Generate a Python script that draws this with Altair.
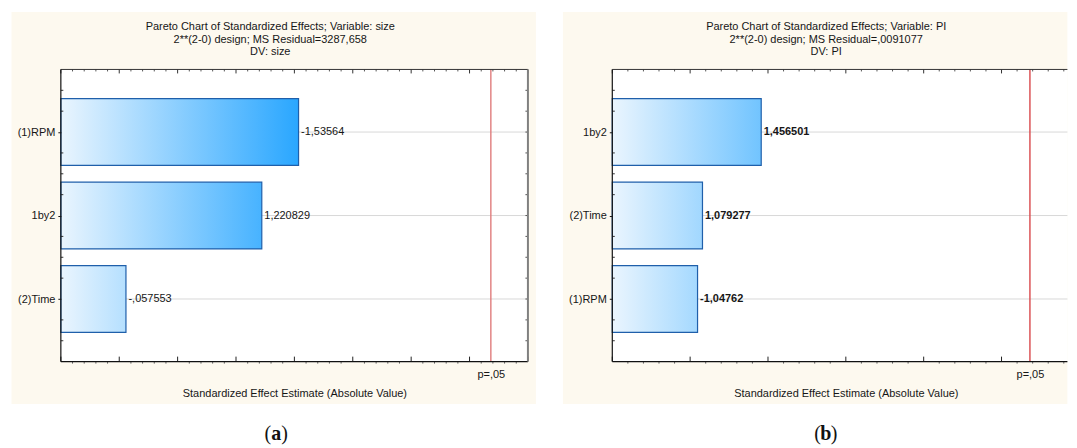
import json
import altair as alt
import pandas as pd

# ---------------- data ----------------
A_TERMS = ["(1)RPM", "1by2", "(2)Time"]
A_EFFECTS = [-1.53564, 1.220829, -0.057553]
A_TITLE = ["Pareto Chart of Standardized Effects; Variable: size",
           "2**(2-0) design; MS Residual=3287,658",
           "DV: size"]

B_TERMS = ["1by2", "(2)Time", "(1)RPM"]
B_EFFECTS = [1.456501, 1.079277, -1.04762]
B_TITLE = ["Pareto Chart of Standardized Effects; Variable: PI",
           "2**(2-0) design; MS Residual=,0091077",
           "DV: PI"]

T_CRIT = 3.182446
P_LABEL = "p=,05"
X_TITLE = "Standardized Effect Estimate (Absolute Value)"
A_DOMAIN = [-0.5, 3.5]
B_DOMAIN = [0.5, 3.5]
A_MAJOR = [-0.5, 0.0, 0.5, 1.0, 1.5, 2.0, 2.5, 3.0, 3.5]
B_MAJOR = [0.5, 1.0, 1.5, 2.0, 2.5, 3.0, 3.5]
Y_QUARTERS = [-0.5, -0.25, 0.25, 0.5, 0.75, 1.25, 1.5, 1.75, 2.25, 2.5]

# ---------------- style ----------------
FONT = "Liberation Sans"
INK = "#161616"
BEIGE = "#FDF9EF"
PLOT_W = 468.4
PLOT_H = 293
SAT_PX = 240


def fmt(v):
    s = repr(v)
    if abs(v) < 1:
        s = s.replace("0.", ".", 1)
    return s.replace(".", ",")


def panel(terms, effects, titles, full_dom, majors, view_w, right_pad,
          title_cx, cap_cx, cap_letter, red, val_weight, right_frame):
    px = PLOT_W / (full_dom[1] - full_dom[0])
    d0 = full_dom[0]
    vis = [d0, d0 + view_w / px]
    W, H = view_w, PLOT_H
    n = len(terms)

    df = pd.DataFrame({"term": terms, "effect": effects})
    df["idx"] = list(range(n))
    df["abs"] = df["effect"].abs()
    df["lo"] = df["idx"] - 0.4
    df["hi"] = df["idx"] + 0.4
    df["base"] = d0
    df["label"] = [fmt(v) for v in effects]

    xs = alt.Scale(domain=vis, nice=False, zero=False)
    ys = alt.Scale(domain=[-0.75, 2.75], reverse=True, nice=False, zero=False)
    xax = alt.Axis(values=[T_CRIT], labelExpr=f"'{P_LABEL}'", ticks=False,
                   domain=False, grid=False, title=X_TITLE, titleX=PLOT_W / 2,
                   labelFont=FONT, labelFontSize=11, labelColor=INK,
                   labelPadding=7, titleFont=FONT, titleFontSize=11,
                   titleFontWeight="normal", titleColor=INK, titlePadding=8,
                   zindex=1)
    yax = alt.Axis(values=list(range(n)),
                   labelExpr=f"{json.dumps(terms)}[round(datum.value)]",
                   tickSize=3, tickColor=INK, labelPadding=3, domain=False,
                   grid=False, title=None, labelFont=FONT, labelFontSize=11,
                   labelColor=INK, zindex=1)

    def X(f):
        return alt.X(f, type="quantitative", scale=xs, axis=xax)

    def Y(f):
        return alt.Y(f, type="quantitative", scale=ys, axis=yax)

    one = pd.DataFrame({"k": [0]})
    layers = []
    # beige surround and white plot area
    layers.append(alt.Chart(one).mark_rect(fill=BEIGE).encode(
        x=alt.value(-49.5), x2=alt.value(W + right_pad),
        y=alt.value(-57.7), y2=alt.value(H + 42.6)))
    layers.append(alt.Chart(one).mark_rect(fill="white").encode(
        x=alt.value(0), x2=alt.value(W), y=alt.value(0), y2=alt.value(H)))
    # grid lines
    layers.append(alt.Chart(df).mark_rule(color="#D8D8D8", strokeWidth=1).encode(
        y=Y("idx"), x=alt.value(0), x2=alt.value(W)))
    # bars, each with a gradient in plot pixels
    for t, a in zip(df["term"], df["abs"]):
        w = (a - d0) * px
        grad = alt.Gradient(
            gradient="linear",
            stops=[alt.GradientStop(color="#EAF5FE", offset=0),
                   alt.GradientStop(color="#28A6FF", offset=1)],
            x1=0, x2=SAT_PX / w, y1=0, y2=0)
        layers.append(alt.Chart(df).transform_filter(alt.datum.term == t)
                      .mark_rect(fill=grad, stroke="#1F5FAA", strokeWidth=1.2)
                      .encode(x=X("base"), x2="abs:Q", y=Y("lo"), y2="hi:Q"))
    # value labels
    layers.append(alt.Chart(df).mark_text(
        align="left", baseline="middle", dx=2.5, font=FONT, fontSize=11,
        fontWeight=val_weight, color=INK).encode(
        x=X("abs"), y=Y("idx"), text="label:N"))
    # critical value line
    pdf = pd.DataFrame({"p": [T_CRIT]})
    layers.append(alt.Chart(pdf).mark_rule(color=red, strokeWidth=1.4).encode(
        x=X("p"), y=alt.value(0), y2=alt.value(H)))

    # tick marks
    vmaj = [v for v in majors if vis[0] - 1e-9 <= v <= vis[1] + 1e-9]
    vmin = []
    k = 0
    while True:
        v = round(d0 + 0.1 * k, 2)
        if v > vis[1] + 1e-9:
            break
        if all(abs(v - m) > 1e-6 for m in majors):
            vmin.append(v)
        k += 1
    tmaj = pd.DataFrame({"v": vmaj})
    tmin = pd.DataFrame({"v": vmin})
    layers.append(alt.Chart(tmaj).mark_rule(color="#333333").encode(
        x=X("v"), y=alt.value(0), y2=alt.value(4)))
    layers.append(alt.Chart(tmin).mark_rule(color="#555555").encode(
        x=X("v"), y=alt.value(0), y2=alt.value(2)))
    layers.append(alt.Chart(tmaj).mark_rule(color="#222222").encode(
        x=X("v"), y=alt.value(H), y2=alt.value(H - 5)))
    layers.append(alt.Chart(tmin).mark_rule(color="#666666").encode(
        x=X("v"), y=alt.value(H), y2=alt.value(H + 2)))
    yq = pd.DataFrame({"v": Y_QUARTERS})
    layers.append(alt.Chart(yq).mark_rule(color="#333333").encode(
        y=Y("v"), x=alt.value(0), x2=alt.value(2.5)))
    if right_frame:
        yq2 = pd.DataFrame({"v": sorted(Y_QUARTERS + [0, 1, 2])})
        layers.append(alt.Chart(yq2).mark_rule(color="#555555").encode(
            y=Y("v"), x=alt.value(W), x2=alt.value(W - 2.5)))

    # frame
    layers.append(alt.Chart(one).mark_rule(color="#333333", strokeWidth=1).encode(
        x=alt.value(0), x2=alt.value(W), y=alt.value(0)))
    layers.append(alt.Chart(one).mark_rule(color="#111111", strokeWidth=1.2).encode(
        x=alt.value(0), x2=alt.value(W), y=alt.value(H)))
    layers.append(alt.Chart(one).mark_rule(color="#111111", strokeWidth=1.2).encode(
        x=alt.value(0), y=alt.value(0), y2=alt.value(H)))
    if right_frame:
        layers.append(alt.Chart(one).mark_rule(color="#808080", strokeWidth=2).encode(
            x=alt.value(W), y=alt.value(0), y2=alt.value(H)))

    # title lines
    for line, yy in zip(titles, [-42.7, -30.0, -17.5]):
        layers.append(alt.Chart(one).mark_text(
            align="center", baseline="middle", font=FONT, fontSize=11,
            color=INK).encode(x=alt.value(title_cx), y=alt.value(yy),
                              text=alt.value(line)))

    # caption (a)/(b)
    cy = 365.6
    layers.append(alt.Chart(one).mark_text(
        align="right", baseline="middle", font="Liberation Serif", fontSize=20,
        color="#111111").encode(x=alt.value(cap_cx - 5), y=alt.value(cy),
                                text=alt.value("(")))
    layers.append(alt.Chart(one).mark_text(
        align="center", baseline="middle", font="Liberation Serif", fontSize=20,
        fontWeight="bold", color="#111111").encode(
        x=alt.value(cap_cx), y=alt.value(cy), text=alt.value(cap_letter)))
    layers.append(alt.Chart(one).mark_text(
        align="left", baseline="middle", font="Liberation Serif", fontSize=20,
        color="#111111").encode(x=alt.value(cap_cx + 5), y=alt.value(cy),
                                text=alt.value(")")))

    return alt.layer(*layers).properties(width=W, height=H)


pa = panel(A_TERMS, A_EFFECTS, A_TITLE, A_DOMAIN, A_MAJOR, PLOT_W, 8,
           210, 216, "a", "#E07C7C", "normal", True)
pb = panel(B_TERMS, B_EFFECTS, B_TITLE, B_DOMAIN, B_MAJOR, 456.4, 0,
           214.5, 214.2, "b", "#D8474B", "bold", False)

chart = alt.hconcat(pa, pb, spacing=26).properties(
    padding={"left": 3, "top": 2, "right": 0, "bottom": 0},
    background="white",
).configure_view(stroke="transparent")

chart.save("out.html", embed_options={"renderer": "svg", "actions": False})
